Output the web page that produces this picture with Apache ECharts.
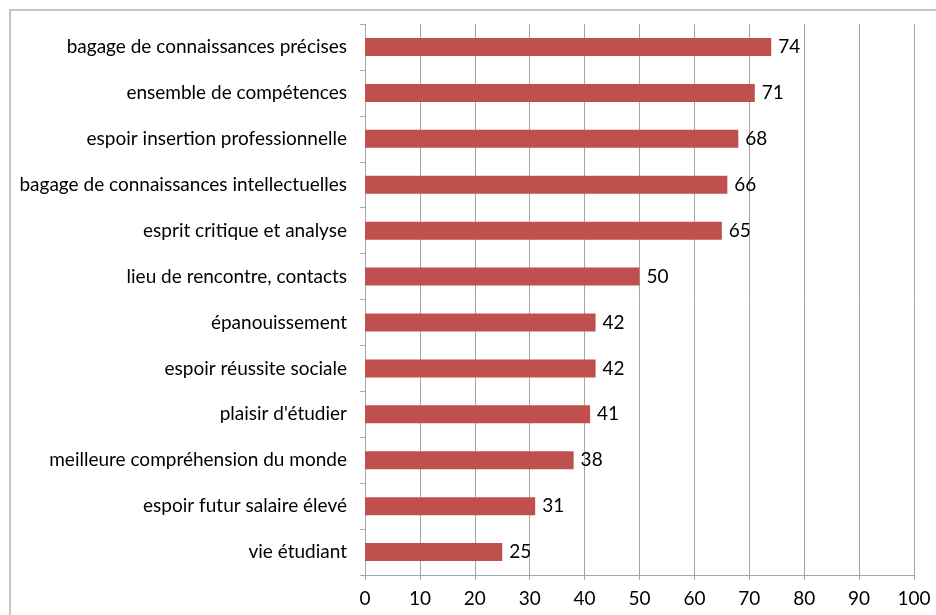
<!DOCTYPE html>
<html><head><meta charset="utf-8">
<script src="https://cdn.jsdelivr.net/npm/echarts@6/dist/echarts.min.js"></script>
<style>html,body{margin:0;padding:0;background:#fff}#c{width:936px;height:615px}</style>
</head><body><div id="c"></div>
<script>
const categories = ["bagage de connaissances précises","ensemble de compétences","espoir insertion professionnelle","bagage de connaissances intellectuelles","esprit critique et analyse","lieu de rencontre, contacts","épanouissement","espoir réussite sociale","plaisir d'étudier","meilleure compréhension du monde","espoir futur salaire élevé","vie étudiant"];
const values = [74,71,68,66,65,50,42,42,41,38,31,25];
const xTicks = [0,10,20,30,40,50,60,70,80,90,100];
const FONT = 'Lato, "Open Sans", sans-serif';
const chart = echarts.init(document.getElementById('c'));
chart.setOption({
  animation:false,
  graphic:[{type:'rect',shape:{x:10,y:10,width:940,height:620},style:{fill:'none',stroke:'#b3b3b3',lineWidth:1.5},silent:true}],
  grid:{left:365,right:22,top:24,bottom:40,containLabel:false},
  xAxis:{type:'value',min:xTicks[0],max:xTicks[xTicks.length-1],interval:10,
    axisLine:{show:true,lineStyle:{color:'#a6a6a6'}},
    axisTick:{show:true,length:5,lineStyle:{color:'#a6a6a6'}},
    axisLabel:{color:'#000',fontSize:19,fontFamily:FONT,margin:14},
    splitLine:{show:true,lineStyle:{color:'#a6a6a6',width:1}}},
  yAxis:{type:'category',data:categories,inverse:true,
    axisLine:{show:true,lineStyle:{color:'#a6a6a6'}},
    axisTick:{show:true,length:5,lineStyle:{color:'#a6a6a6'}},
    axisLabel:{color:'#000',fontSize:19,fontFamily:FONT,margin:18}},
  series:[{type:'bar',data:values,barWidth:18,
    itemStyle:{color:'#C0504D'},
    label:{show:true,position:'right',distance:7,color:'#000',fontSize:19,fontFamily:FONT}}]
});
</script></body></html>
